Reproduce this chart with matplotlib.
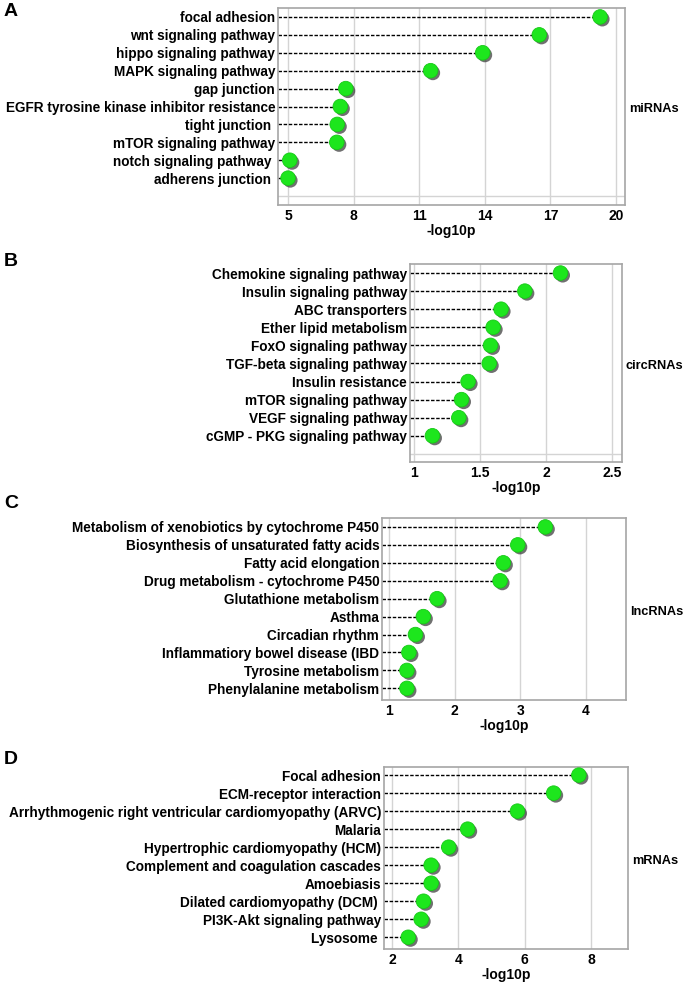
import matplotlib
matplotlib.use("Agg")
import matplotlib.pyplot as plt
import matplotlib.patheffects as pe

# panel A - miRNAs
mirna_terms = ["focal adhesion", "wnt signaling pathway", "hippo signaling pathway",
               "MAPK signaling pathway", "gap junction",
               "EGFR tyrosine kinase inhibitor resistance", "tight junction ",
               "mTOR signaling pathway", "notch signaling pathway ", "adherens junction "]
mirna_vals = [19.27, 16.49, 13.9, 11.52, 7.64, 7.39, 7.25, 7.23, 5.08, 5.0]
mirna_ticks = [5, 8, 11, 14, 17, 20]

# panel B - circRNAs
circ_terms = ["Chemokine signaling pathway", "Insulin signaling pathway", "ABC transporters",
              "Ether lipid metabolism", "FoxO signaling pathway", "TGF-beta signaling pathway",
              "Insulin resistance", "mTOR signaling pathway", "VEGF signaling pathway",
              "cGMP - PKG signaling pathway"]
circ_vals = [2.11, 1.84, 1.66, 1.60, 1.58, 1.57, 1.41, 1.36, 1.34, 1.14]
circ_ticks = [1, 1.5, 2, 2.5]

# panel C - lncRNAs
lnc_terms = ["Metabolism of xenobiotics by cytochrome P450",
             "Biosynthesis of unsaturated fatty acids", "Fatty acid elongation",
             "Drug metabolism - cytochrome P450", "Glutathione metabolism", "Asthma",
             "Circadian rhythm", "Inflammatiory bowel disease (IBD", "Tyrosine metabolism",
             "Phenylalanine metabolism"]
lnc_vals = [3.38, 2.96, 2.74, 2.69, 1.73, 1.52, 1.40, 1.30, 1.27, 1.27]
lnc_ticks = [1, 2, 3, 4]

# panel D - mRNAs
mrna_terms = ["Focal adhesion", "ECM-receptor interaction",
              "Arrhythmogenic right ventricular cardiomyopathy (ARVC)", "Malaria",
              "Hypertrophic cardiomyopathy (HCM)", "Complement and coagulation cascades",
              "Amoebiasis", "Dilated cardiomyopathy (DCM) ", "PI3K-Akt signaling pathway",
              "Lysosome "]
mrna_vals = [7.63, 6.87, 5.78, 4.28, 3.71, 3.18, 3.18, 2.95, 2.88, 2.49]
mrna_ticks = [2, 4, 6, 8]

FONT = ["Liberation Sans", "DejaVu Sans"]
W, H = 685, 984


def lollipop(fig, box, terms, vals, ticks, xlim, ylim, side_label, letter, letter_y):
    left, right, top, bottom = box
    ax = fig.add_axes([left / W, 1 - bottom / H, (right - left) / W, (bottom - top) / H])
    ys = list(range(len(terms)))

    # dashed stems
    for y, v in zip(ys, vals):
        ax.plot([xlim[0], v], [y, y], color="black", lw=1.0, ls=(0, (2.5, 1.2)), zorder=2)

    # green dots with a soft shadow
    ax.plot(vals, ys, "o", ms=10.5, mfc="#1de61d", mec="#17c917", mew=0.6, zorder=3,
            path_effects=[pe.SimplePatchShadow(offset=(1.6, -1.6), shadow_rgbFace="#333333",
                                               alpha=0.7), pe.Normal()])

    ax.set_xlim(*xlim)
    ax.set_ylim(*ylim)
    ax.set_xticks(ticks)
    ax.set_xticklabels([f"{t:g}" for t in ticks], fontsize=10, fontweight="bold", family=FONT)
    ax.set_yticks(ys)
    ax.set_yticklabels(terms, fontsize=9.8, fontweight="bold", family=FONT)
    ax.set_yticks(range(0, int(ylim[0]) + 1), minor=True)
    ax.tick_params(axis="both", length=0, pad=2)
    ax.tick_params(axis="x", pad=3)
    ax.grid(True, which="major", axis="x", color="#d4d4d4", lw=1)
    ax.grid(True, which="minor", axis="y", color="#d4d4d4", lw=1)
    ax.tick_params(which="minor", length=0)
    ax.set_axisbelow(True)
    for s in ax.spines.values():
        s.set_color("#a6a6a6")
        s.set_linewidth(1.2)
    ax.set_xlabel("-log10p", fontsize=10, fontweight="bold", family=FONT, labelpad=0.5)

    mid = (top + bottom) / 2
    fig.text((right + 4) / W, 1 - (mid + 3) / H, side_label, fontsize=9.2, fontweight="bold",
             family=FONT, ha="left", va="center")
    fig.text(4 / W, 1 - letter_y / H, letter, fontsize=14, fontweight="bold",
             family=FONT, ha="left", va="center")
    return ax


fig = plt.figure(figsize=(W / 100, H / 100), dpi=100)

lollipop(fig, (278, 625, 8, 205), mirna_terms, mirna_vals, mirna_ticks,
         (4.54, 20.41), (10.5, -0.5), "miRNAs", "A", 12)
lollipop(fig, (410, 622, 264, 462), circ_terms, circ_vals, circ_ticks,
         (0.97, 2.576), (10.45, -0.5), "circRNAs", "B", 262)
lollipop(fig, (382, 626, 518, 700), lnc_terms, lnc_vals, lnc_ticks,
         (0.89, 4.61), (9.65, -0.5), "lncRNAs", "C", 503)
lollipop(fig, (384, 628, 767, 949), mrna_terms, mrna_vals, mrna_ticks,
         (1.76, 9.11), (9.65, -0.45), "mRNAs", "D", 760)

fig.savefig("out.png", dpi=100)
